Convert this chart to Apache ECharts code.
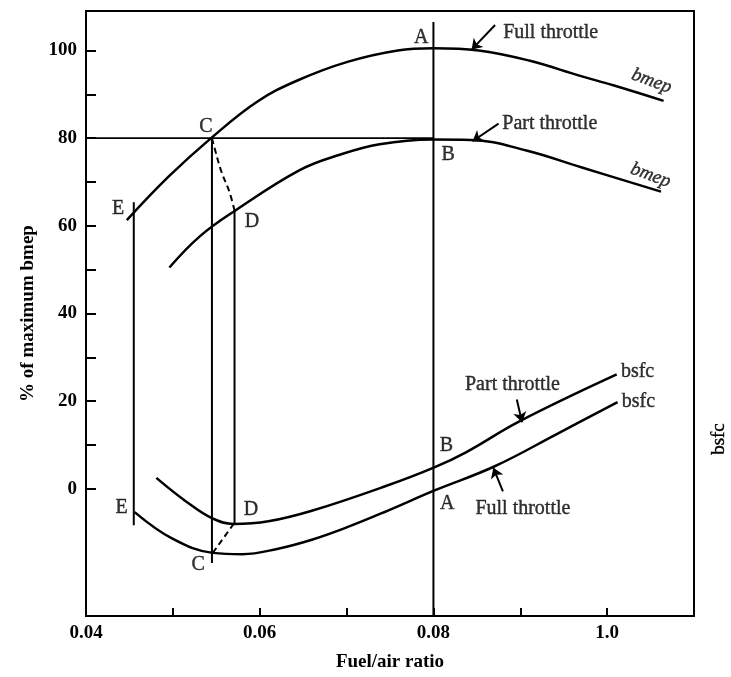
<!DOCTYPE html>
<html>
<head>
<meta charset="utf-8">
<script src="https://cdn.jsdelivr.net/npm/echarts@6/dist/echarts.min.js"></script>
<style>html,body{margin:0;padding:0;background:#fff;}#chart{width:731px;height:677px;}</style>
</head>
<body>
<div id="chart"></div>
<script>
// ---- data (fuel/air ratio, % of max bmep / bsfc scale) ----
const fullBmep = [[0.0447,61.3],[0.0495,71.2],[0.0544,80.0],[0.0597,88.3],[0.0644,93.2],[0.0701,97.4],[0.0759,100.0],[0.0800,100.5],[0.0852,100.0],[0.0910,97.7],[0.0969,94.2],[0.1008,92.0],[0.1065,88.5]];
const partBmep = [[0.0496,50.5],[0.0531,57.6],[0.0572,63.5],[0.0646,72.7],[0.0692,76.2],[0.0738,78.6],[0.0798,79.7],[0.0843,79.6],[0.0907,77.2],[0.0971,73.3],[0.1062,67.8]];
const fullBsfc = [[0.0456,-5.3],[0.0499,-11.3],[0.0546,-14.6],[0.0580,-14.9],[0.0620,-13.7],[0.0660,-11.6],[0.0700,-8.8],[0.0747,-5.0],[0.0802,-0.3],[0.0870,5.1],[0.0942,12.5],[0.1012,19.8]];
const partBsfc = [[0.0481,2.5],[0.0514,-2.7],[0.0545,-6.7],[0.0570,-8.0],[0.0610,-7.4],[0.0660,-5.0],[0.0746,0.7],[0.0801,4.9],[0.0838,8.4],[0.0899,15.4],[0.1011,26.1]];
// construction lines
const lineE = [[0.0455,65.4],[0.0455,-8.3]];
const lineC = [[0.0545,80.0],[0.0545,-16.9]];
const lineD = [[0.0571,63.5],[0.0571,-8.0]];
const lineAB = [[0.0800,106.5],[0.0800,-29]];
const line80 = [[0.04,80],[0.0800,80]];
const dashCDtop = [[0.0545,80.0],[0.0549,77.0],[0.0556,72.3],[0.0565,67.8],[0.0571,63.5]];
const dashCDbottom = [[0.0546,-14.6],[0.0570,-8.0]];
// annotations: text, x, y
const letterLabels = [['A',0.0786,103],['B',0.0817,76.3],['C',0.0538,82.7],['E',0.0437,64],['D',0.0591,61],['E',0.0441,-4.2],['C',0.0529,-17.4],['D',0.0590,-4.8],['B',0.0815,9.9],['A',0.0816,-3.5]];
const phraseLabels = [['Full throttle',0.0935,104],['Part throttle',0.0934,83.3],['Part throttle',0.0891,23.8],['Full throttle',0.0903,-4.6],['bsfc',0.1035,26.6],['bsfc',0.1036,19.8]];
const bmepLabels = [['bmep',0.1051,93],['bmep',0.1050,71.5]];
const arrows = [[[0.0871,105.8],[0.0844,100.2]],[[0.0875,83.3],[0.0845,79.3]],[[0.0896,20.4],[0.0902,15.2]],[[0.0880,-0.6],[0.0869,4.8]]];
// axes
const xTicks = [0.05,0.06,0.07,0.08,0.09,0.10];
const xTickLabels = {'0.04':'0.04','0.06':'0.06','0.08':'0.08','0.1':'1.0'};
const xLabelValues = [0.04,0.06,0.08,0.10];
const yTicks = [0,10,20,30,40,50,60,70,80,90,100];
const yLabelValues = [0,20,40,60,80,100];

const FONT = 'Liberation Serif';
const chart = echarts.init(document.getElementById('chart'));
function lineSeries(data, opts) {
  return Object.assign({type:'line', data:data, symbol:'none', silent:true,
    lineStyle:{color:'#000', width:2.5}, z:3}, opts||{});
}
const annot = (arr, style) => ({
  type:'scatter', symbolSize:0, silent:true, z:5,
  data: arr.map(a => ({value:[a[1],a[2]], name:a[0]})),
  label:Object.assign({show:true, position:'inside', formatter:p=>p.name, color:'#000', fontFamily:FONT, fontSize:20,
    textBorderColor:'#000', textBorderWidth:0.4}, style||{})
});
chart.setOption({
  animation:false,
  backgroundColor:'#fff',
  grid:{left:86, right:37, top:11, bottom:58, show:true, borderColor:'#000', borderWidth:2},
  xAxis:{type:'value', min:0.04, max:0.11,
    name:'Fuel/air ratio', nameLocation:'middle', nameGap:37,
    nameTextStyle:{fontFamily:FONT, fontSize:19, fontWeight:'bold', color:'#000'},
    axisLine:{show:true, onZero:false, lineStyle:{color:'#000', width:2}},
    axisTick:{show:true, inside:true, length:8, customValues:xTicks, lineStyle:{color:'#000', width:2}},
    axisLabel:{customValues:xLabelValues, margin:8, fontFamily:FONT, fontSize:19, fontWeight:'bold', color:'#000',
      formatter:v => xTickLabels[String(Math.round(v*100)/100)] || ''},
    splitLine:{show:false}},
  yAxis:[{type:'value', min:-29, max:109,
    name:'% of maximum bmep', nameLocation:'middle', nameGap:40, nameRotate:90,
    nameTextStyle:{fontFamily:FONT, fontSize:19, fontWeight:'bold', color:'#000'},
    axisLine:{show:true, onZero:false, lineStyle:{color:'#000', width:2}},
    axisTick:{show:true, inside:true, length:10, customValues:yTicks, lineStyle:{color:'#000', width:2}},
    axisLabel:{customValues:yLabelValues, margin:9, fontFamily:FONT, fontSize:19, fontWeight:'bold', color:'#000'},
    splitLine:{show:false}}],
  graphic:[{type:'text', left:709, top:423, rotation:Math.PI/2,
    style:{text:'bsfc', font:'19px "Liberation Serif"', fill:'#000', stroke:'#000', lineWidth:0.4}}],
  series:[
    lineSeries(fullBmep,{smooth:0.4}),
    lineSeries(partBmep,{smooth:0.4}),
    lineSeries(fullBsfc,{smooth:0.4}),
    lineSeries(partBsfc,{smooth:0.4}),
    lineSeries(lineE,{lineStyle:{color:'#000',width:2}}),
    lineSeries(lineC,{lineStyle:{color:'#000',width:2}}),
    lineSeries(lineD,{lineStyle:{color:'#000',width:2}}),
    lineSeries(lineAB,{lineStyle:{color:'#000',width:2}}),
    lineSeries(line80,{lineStyle:{color:'#000',width:1.8}}),
    lineSeries(dashCDtop,{smooth:0.4, lineStyle:{color:'#000',width:2,type:[6,4]}}),
    lineSeries(dashCDbottom,{lineStyle:{color:'#000',width:2,type:[6,4]}}),
    {type:'lines', coordinateSystem:'cartesian2d', silent:true, z:4,
      symbol:['none','arrow'], symbolSize:10,
      lineStyle:{color:'#000', width:2, opacity:1},
      data: arrows.map(a => ({coords:a}))},
    annot(letterLabels),
    annot(phraseLabels),
    annot(bmepLabels, {fontSize:19, fontStyle:'italic', rotate:-20})
  ]
});
</script>
</body>
</html>
